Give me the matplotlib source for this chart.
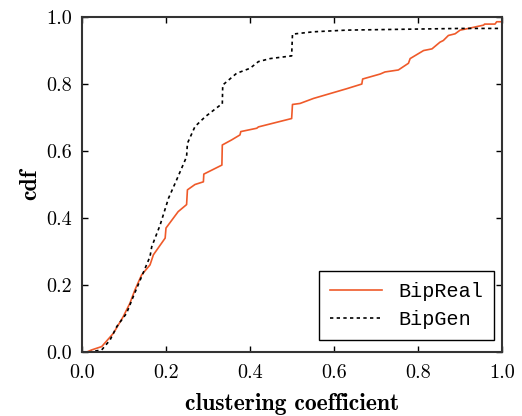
import numpy as np
import matplotlib
matplotlib.use("Agg")
import matplotlib.pyplot as plt

plt.rcParams['font.family'] = 'serif'
plt.rcParams['font.serif'] = ['cmr10']
plt.rcParams['axes.formatter.use_mathtext'] = True

# BipReal cdf
real_x = [0.0, 0.012, 0.023, 0.047, 0.075, 0.098, 0.114, 0.126, 0.142, 0.162, 0.17, 0.198, 0.2,
          0.229, 0.249, 0.251, 0.269, 0.289, 0.29, 0.333, 0.334, 0.356, 0.376, 0.378, 0.416, 0.42,
          0.499, 0.501, 0.519, 0.551, 0.63, 0.666, 0.668, 0.71, 0.721, 0.753, 0.777, 0.781, 0.813,
          0.833, 0.852, 0.86, 0.872, 0.888, 0.9, 0.916, 0.956, 0.958, 0.983, 0.987, 1.0]
real_y = [0.0, 0.0, 0.006, 0.016, 0.056, 0.105, 0.145, 0.185, 0.23, 0.26, 0.29, 0.34, 0.37,
          0.419, 0.44, 0.484, 0.5, 0.508, 0.531, 0.558, 0.618, 0.633, 0.648, 0.658, 0.668, 0.672,
          0.697, 0.739, 0.742, 0.757, 0.786, 0.8, 0.815, 0.83, 0.836, 0.842, 0.862, 0.876, 0.9,
          0.905, 0.925, 0.93, 0.945, 0.95, 0.961, 0.965, 0.976, 0.979, 0.979, 0.986, 0.986]

# BipGen cdf
gen_x = [0.0, 0.019, 0.047, 0.067, 0.083, 0.106, 0.122, 0.142, 0.162, 0.166, 0.186, 0.206, 0.225,
         0.249, 0.251, 0.269, 0.293, 0.329, 0.334, 0.335, 0.368, 0.4, 0.42, 0.448, 0.499, 0.501,
         0.551, 0.63, 0.789, 0.9, 1.0]
gen_y = [0.0, 0.0, 0.006, 0.036, 0.076, 0.115, 0.165, 0.225, 0.285, 0.314, 0.379, 0.459, 0.513,
         0.583, 0.623, 0.673, 0.702, 0.737, 0.74, 0.797, 0.832, 0.847, 0.867, 0.876, 0.884, 0.949,
         0.956, 0.961, 0.964, 0.966, 0.966]

ticks = ['0.0', '0.2', '0.4', '0.6', '0.8', '1.0']

fig = plt.figure(figsize=(5.22, 4.16), dpi=100)
ax = fig.add_axes([0.157, 0.154, 0.805, 0.805])

ax.plot(real_x, real_y, color='#ef5a2a', lw=1.2, label='BipReal')
ax.plot(gen_x, gen_y, color='black', lw=1.2, ls=(0, (2, 2)), label='BipGen')

ax.set_xlim(0, 1)
ax.set_ylim(0, 1)
ax.set_xticks(np.arange(0, 1.01, 0.2))
ax.set_yticks(np.arange(0, 1.01, 0.2))
ax.set_xticklabels(ticks)
ax.set_yticklabels(ticks)
ax.tick_params(direction='in', top=True, right=True, labelsize=14.5, length=4, width=1)
ax.tick_params(axis='x', pad=9)
ax.tick_params(axis='y', pad=7)
for s in ax.spines.values():
    s.set_linewidth(1.5)
    s.set_color('#333333')

ax.set_xlabel('clustering coefficient', family='cmb10', fontsize=17, labelpad=8)
ax.set_ylabel('cdf', family='cmb10', fontsize=17, labelpad=4)

leg = ax.legend(loc='lower right', prop={'family': 'Liberation Mono', 'size': 14.5},
                fancybox=False, framealpha=1, edgecolor='black', handlelength=2.6,
                borderpad=0.55, labelspacing=0.45, borderaxespad=0,
                bbox_to_anchor=(0.981, 0.036))
leg.get_frame().set_linewidth(1.0)

fig.savefig('out.png', dpi=100)
